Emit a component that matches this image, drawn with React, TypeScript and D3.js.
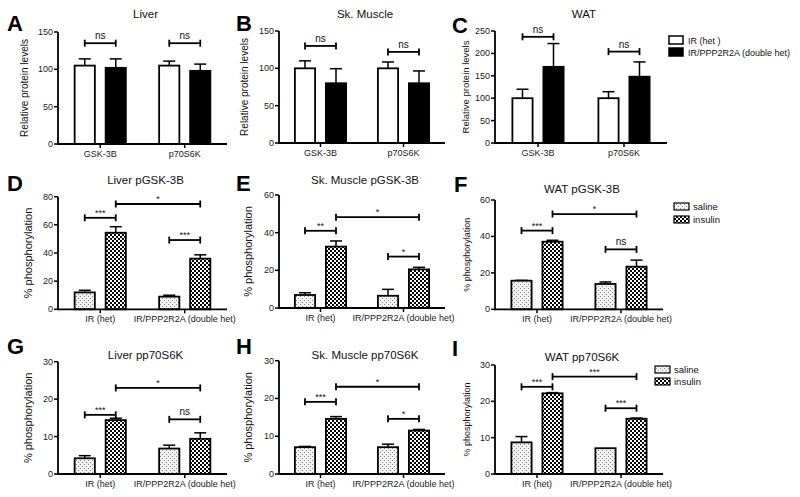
import React from "react";
import * as d3 from "d3";

// ---------- DATA ----------
const proteinCategories = ["GSK-3B", "p70S6K"];
const genotypeLegend = ["IR (het )", "IR/PPP2R2A (double het)"];
const phosphoCategories = ["IR (het)", "IR/PPP2R2A (double het)"];
const treatmentLegend = ["saline", "insulin"];

// Total protein levels (Relative protein levels)
const liverIRMean = [105, 105];
const liverIRSem = [9, 6];
const liverDblMean = [102, 98];
const liverDblSem = [12, 9];

const muscleIRMean = [100, 100];
const muscleIRSem = [10, 8.5];
const muscleDblMean = [80, 80];
const muscleDblSem = [19.5, 16.5];

const watIRMean = [100, 100];
const watIRSem = [20, 14.5];
const watDblMean = [170, 148];
const watDblSem = [52, 33];

// pGSK-3B (% phosphorylation)
const liverGskSaline = [12, 9];
const liverGskSalineSem = [1.5, 1];
const liverGskInsulin = [54.4, 36];
const liverGskInsulinSem = [4.3, 2.7];

const muscleGskSaline = [6.9, 6.5];
const muscleGskSalineSem = [1.2, 3.4];
const muscleGskInsulin = [32.6, 20.5];
const muscleGskInsulinSem = [3, 1.1];

const watGskSaline = [15.7, 13.9];
const watGskSalineSem = [0.2, 1.1];
const watGskInsulin = [37.1, 23.4];
const watGskInsulinSem = [0.8, 3.6];

// pp70S6K (% phosphorylation)
const liverS6kSaline = [4.2, 6.8];
const liverS6kSalineSem = [0.7, 0.9];
const liverS6kInsulin = [14.4, 9.4];
const liverS6kInsulinSem = [0.5, 1.6];

const muscleS6kSaline = [7.1, 7.1];
const muscleS6kSalineSem = [0.2, 0.8];
const muscleS6kInsulin = [14.6, 11.5];
const muscleS6kInsulinSem = [0.6, 0.3];

const watS6kSaline = [8.7, 7.1];
const watS6kSalineSem = [1.6, 0];
const watS6kInsulin = [22.2, 15.2];
const watS6kInsulinSem = [0.2, 0.2];

// significance brackets: bar index from/to (0..3), level in data units
const liverTotalSig = [
  { from: 0, to: 1, level: 135, label: "ns" },
  { from: 2, to: 3, level: 135, label: "ns" },
];
const muscleTotalSig = [
  { from: 0, to: 1, level: 130, label: "ns" },
  { from: 2, to: 3, level: 122, label: "ns" },
];
const watTotalSig = [
  { from: 0, to: 1, level: 237, label: "ns" },
  { from: 2, to: 3, level: 204, label: "ns" },
];
const liverGskSig = [
  { from: 0, to: 1, level: 65, label: "***" },
  { from: 1, to: 3, level: 74.8, label: "*" },
  { from: 2, to: 3, level: 49.2, label: "***" },
];
const muscleGskSig = [
  { from: 0, to: 1, level: 41, label: "**" },
  { from: 1, to: 3, level: 48.2, label: "*" },
  { from: 2, to: 3, level: 27.3, label: "*" },
];
const watGskSig = [
  { from: 0, to: 1, level: 43.2, label: "***" },
  { from: 1, to: 3, level: 52.3, label: "*" },
  { from: 2, to: 3, level: 32.9, label: "ns" },
];
const liverS6kSig = [
  { from: 0, to: 1, level: 15.8, label: "***" },
  { from: 1, to: 3, level: 23, label: "*" },
  { from: 2, to: 3, level: 14.6, label: "ns" },
];
const muscleS6kSig = [
  { from: 0, to: 1, level: 19.1, label: "***" },
  { from: 1, to: 3, level: 23.1, label: "*" },
  { from: 2, to: 3, level: 14.6, label: "*" },
];
const watS6kSig = [
  { from: 0, to: 1, level: 24, label: "***" },
  { from: 1, to: 3, level: 26.8, label: "***" },
  { from: 2, to: 3, level: 18.1, label: "***" },
];

const totalTicks = [0, 50, 100, 150];
const watTotalTicks = [0, 50, 100, 150, 200, 250];
const gsk80Ticks = [0, 20, 40, 60, 80];
const gsk60Ticks = [0, 20, 40, 60];
const s6kTicks = [0, 10, 20, 30];

// ---------- LAYOUT ----------
const FONT = "'Liberation Sans', Arial, Helvetica, sans-serif";

type Sig = { from: number; to: number; level: number; label: string };
type Panel = {
  letter: string;
  letterX: number;
  letterY: number;
  title: string;
  titleY: number;
  ylabel: string;
  ylabelX: number;
  ylabelSize: number;
  cats: string[];
  means: number[][];
  sems: number[][];
  fills: string[];
  yMax: number;
  ticks: number[];
  axisX: number;
  L: number;
  yTop: number;
  y0: number;
  sig: Sig[];
};

const totalFills = ["#ffffff", "#000000"];
const phosFills = ["url(#saline)", "url(#insulin)"];

const panels: Panel[] = [
  {
    letter: "A", letterX: 7, letterY: 31, title: "Liver", titleY: 18,
    ylabel: "Relative protein levels", ylabelX: 28, ylabelSize: 10,
    cats: proteinCategories, means: [liverIRMean, liverDblMean], sems: [liverIRSem, liverDblSem],
    fills: totalFills, yMax: 150, ticks: totalTicks, axisX: 58, L: 169, yTop: 32, y0: 144, sig: liverTotalSig,
  },
  {
    letter: "B", letterX: 236, letterY: 31, title: "Sk. Muscle", titleY: 18,
    ylabel: "Relative protein levels", ylabelX: 248, ylabelSize: 10,
    cats: proteinCategories, means: [muscleIRMean, muscleDblMean], sems: [muscleIRSem, muscleDblSem],
    fills: totalFills, yMax: 150, ticks: totalTicks, axisX: 279, L: 166, yTop: 31, y0: 143, sig: muscleTotalSig,
  },
  {
    letter: "C", letterX: 452, letterY: 33, title: "WAT", titleY: 18,
    ylabel: "Relative protein levels", ylabelX: 469, ylabelSize: 9.5,
    cats: proteinCategories, means: [watIRMean, watDblMean], sems: [watIRSem, watDblSem],
    fills: totalFills, yMax: 250, ticks: watTotalTicks, axisX: 495, L: 172, yTop: 31, y0: 143, sig: watTotalSig,
  },
  {
    letter: "D", letterX: 7, letterY: 191, title: "Liver pGSK-3B", titleY: 184,
    ylabel: "% phosphorylation", ylabelX: 32, ylabelSize: 11,
    cats: phosphoCategories, means: [liverGskSaline, liverGskInsulin], sems: [liverGskSalineSem, liverGskInsulinSem],
    fills: phosFills, yMax: 80, ticks: gsk80Ticks, axisX: 58, L: 169, yTop: 196.7, y0: 309.3, sig: liverGskSig,
  },
  {
    letter: "E", letterX: 236, letterY: 191, title: "Sk. Muscle pGSK-3B", titleY: 184,
    ylabel: "% phosphorylation", ylabelX: 252, ylabelSize: 11,
    cats: phosphoCategories, means: [muscleGskSaline, muscleGskInsulin], sems: [muscleGskSalineSem, muscleGskInsulinSem],
    fills: phosFills, yMax: 60, ticks: gsk60Ticks, axisX: 279, L: 166, yTop: 195, y0: 308, sig: muscleGskSig,
  },
  {
    letter: "F", letterX: 454, letterY: 192, title: "WAT pGSK-3B", titleY: 193,
    ylabel: "% phosphorylation", ylabelX: 470, ylabelSize: 9,
    cats: phosphoCategories, means: [watGskSaline, watGskInsulin], sems: [watGskSalineSem, watGskInsulinSem],
    fills: phosFills, yMax: 60, ticks: gsk60Ticks, axisX: 495, L: 168, yTop: 200, y0: 309.3, sig: watGskSig,
  },
  {
    letter: "G", letterX: 7, letterY: 354, title: "Liver pp70S6K", titleY: 359,
    ylabel: "% phosphorylation", ylabelX: 32, ylabelSize: 11,
    cats: phosphoCategories, means: [liverS6kSaline, liverS6kInsulin], sems: [liverS6kSalineSem, liverS6kInsulinSem],
    fills: phosFills, yMax: 30, ticks: s6kTicks, axisX: 58, L: 169, yTop: 361.7, y0: 474, sig: liverS6kSig,
  },
  {
    letter: "H", letterX: 236, letterY: 354, title: "Sk. Muscle pp70S6K", titleY: 359,
    ylabel: "% phosphorylation", ylabelX: 252, ylabelSize: 11,
    cats: phosphoCategories, means: [muscleS6kSaline, muscleS6kInsulin], sems: [muscleS6kSalineSem, muscleS6kInsulinSem],
    fills: phosFills, yMax: 30, ticks: s6kTicks, axisX: 279, L: 166, yTop: 360.7, y0: 474, sig: muscleS6kSig,
  },
  {
    letter: "I", letterX: 452, letterY: 356, title: "WAT pp70S6K", titleY: 361,
    ylabel: "% phosphorylation", ylabelX: 470, ylabelSize: 9,
    cats: phosphoCategories, means: [watS6kSaline, watS6kInsulin], sems: [watS6kSalineSem, watS6kInsulinSem],
    fills: phosFills, yMax: 30, ticks: s6kTicks, axisX: 495, L: 168, yTop: 365, y0: 474, sig: watS6kSig,
  },
];

function PanelView({ p }: { p: Panel }) {
  const x = d3.scalePoint<string>().domain(p.cats).range([p.axisX, p.axisX + p.L]).padding(0.5);
  const sub = d3.scaleBand<string>().domain(["0", "1"]).range([-26.5, 26.5]).paddingInner(0.29);
  const y = d3.scaleLinear().domain([0, p.yMax]).range([p.y0, p.yTop]);
  const bw = sub.bandwidth();

  const bars: { left: number; cx: number; mean: number; sem: number; fill: string }[] = [];
  p.cats.forEach((c, g) => {
    [0, 1].forEach((s) => {
      const left = (x(c) as number) + (sub(String(s)) as number);
      bars.push({ left, cx: left + bw / 2, mean: p.means[s][g], sem: p.sems[s][g], fill: p.fills[s] });
    });
  });
  const sw = 1.8;
  const plotCx = p.axisX + p.L / 2;
  const ylMid = (p.yTop + p.y0) / 2;

  return (
    <g>
      <text x={p.letterX} y={p.letterY} fontFamily={FONT} fontWeight="bold" fontSize={22} fill="#000">
        {p.letter}
      </text>
      <text x={plotCx + 3} y={p.titleY} fontFamily={FONT} fontSize={11.5} textAnchor="middle" fill="#111">
        {p.title}
      </text>
      <text
        transform={`translate(${p.ylabelX},${ylMid}) rotate(-90)`}
        fontFamily={FONT}
        fontSize={p.ylabelSize}
        textAnchor="middle"
        fill="#111"
      >
        {p.ylabel}
      </text>
      {bars.map((b, i) => (
        <g key={i}>
          {b.sem > 0 && (
            <g stroke="#000" strokeWidth={1.5}>
              <line x1={b.cx} x2={b.cx} y1={y(b.mean)} y2={y(b.mean + b.sem)} />
              <line x1={b.cx - 6} x2={b.cx + 6} y1={y(b.mean + b.sem)} y2={y(b.mean + b.sem)} />
            </g>
          )}
          <rect
            x={b.left + sw / 2}
            y={y(b.mean)}
            width={bw - sw}
            height={p.y0 - y(b.mean)}
            fill={b.fill}
            stroke="#000"
            strokeWidth={sw}
          />
        </g>
      ))}
      <line x1={p.axisX} x2={p.axisX} y1={p.yTop} y2={p.y0 + 1} stroke="#000" strokeWidth={1.8} />
      <line x1={p.axisX} x2={p.axisX + p.L} y1={p.y0} y2={p.y0} stroke="#000" strokeWidth={1.8} />
      {p.ticks.map((t) => (
        <g key={t}>
          <line x1={p.axisX - 4} x2={p.axisX} y1={y(t)} y2={y(t)} stroke="#000" strokeWidth={1.5} />
          <text x={p.axisX - 5} y={y(t) + 3} fontFamily={FONT} fontSize={9} textAnchor="end" fill="#222">
            {t}
          </text>
        </g>
      ))}
      {p.cats.map((c) => (
        <g key={c}>
          <line x1={x(c)} x2={x(c)} y1={p.y0} y2={p.y0 + 4} stroke="#000" strokeWidth={1.5} />
          <text x={x(c)} y={p.y0 + 13} fontFamily={FONT} fontSize={9} textAnchor="middle" fill="#222">
            {c}
          </text>
        </g>
      ))}
      {p.sig.map((s, i) => {
        const x1 = bars[s.from].cx;
        const x2 = bars[s.to].cx;
        const yy = y(s.level);
        return (
          <g key={i}>
            <g stroke="#000" strokeWidth={1.8}>
              <line x1={x1} x2={x2} y1={yy} y2={yy} />
              <line x1={x1} x2={x1} y1={yy - 3.5} y2={yy + 3.5} />
              <line x1={x2} x2={x2} y1={yy - 3.5} y2={yy + 3.5} />
            </g>
            <text
              x={(x1 + x2) / 2}
              y={s.label === "ns" ? yy - 4 : yy - 2}
              fontFamily={FONT}
              fontSize={s.label === "ns" ? 10 : 9}
              textAnchor="middle"
              fill="#111"
            >
              {s.label}
            </text>
          </g>
        );
      })}
    </g>
  );
}

export default function App() {
  return (
    <svg width={800} height={497} style={{ position: "absolute", left: 0, top: 0, background: "#fff" }}>
      <defs>
        <pattern id="saline" width={4} height={4} patternUnits="userSpaceOnUse">
          <rect width={4} height={4} fill="#f2f2f2" />
          <rect x={0} y={0} width={1} height={1} fill="#888" />
          <rect x={2} y={2} width={1} height={1} fill="#888" />
        </pattern>
        <pattern id="insulin" width={4} height={4} patternUnits="userSpaceOnUse">
          <rect width={4} height={4} fill="#fff" />
          <rect x={0} y={0} width={2} height={2} fill="#000" />
          <rect x={2} y={2} width={2} height={2} fill="#000" />
        </pattern>
      </defs>
      <rect width={800} height={497} fill="#fff" />
      {panels.map((p) => (
        <PanelView key={p.letter} p={p} />
      ))}
      <g fontFamily={FONT} fontSize={9} fill="#111">
        <rect x={669} y={36} width={14} height={8} fill="#fff" stroke="#000" strokeWidth={1.5} />
        <text x={688} y={43.5}>{genotypeLegend[0]}</text>
        <rect x={669} y={48} width={14} height={8} fill="#000" stroke="#000" strokeWidth={1.5} />
        <text x={688} y={55.5}>{genotypeLegend[1]}</text>
      </g>
      <g fontFamily={FONT} fontSize={9.5} fill="#111">
        <rect x={674} y={203} width={15} height={7} fill={phosFills[0]} stroke="#000" strokeWidth={1.2} />
        <text x={693} y={210}>{treatmentLegend[0]}</text>
        <rect x={674} y={216} width={15} height={7} fill={phosFills[1]} stroke="#000" strokeWidth={1.2} />
        <text x={693} y={223}>{treatmentLegend[1]}</text>
      </g>
      <g fontFamily={FONT} fontSize={9.5} fill="#111">
        <rect x={655} y={366} width={15} height={7} fill={phosFills[0]} stroke="#000" strokeWidth={1.2} />
        <text x={674} y={373}>{treatmentLegend[0]}</text>
        <rect x={655} y={378} width={15} height={7} fill={phosFills[1]} stroke="#000" strokeWidth={1.2} />
        <text x={674} y={385}>{treatmentLegend[1]}</text>
      </g>
    </svg>
  );
}
